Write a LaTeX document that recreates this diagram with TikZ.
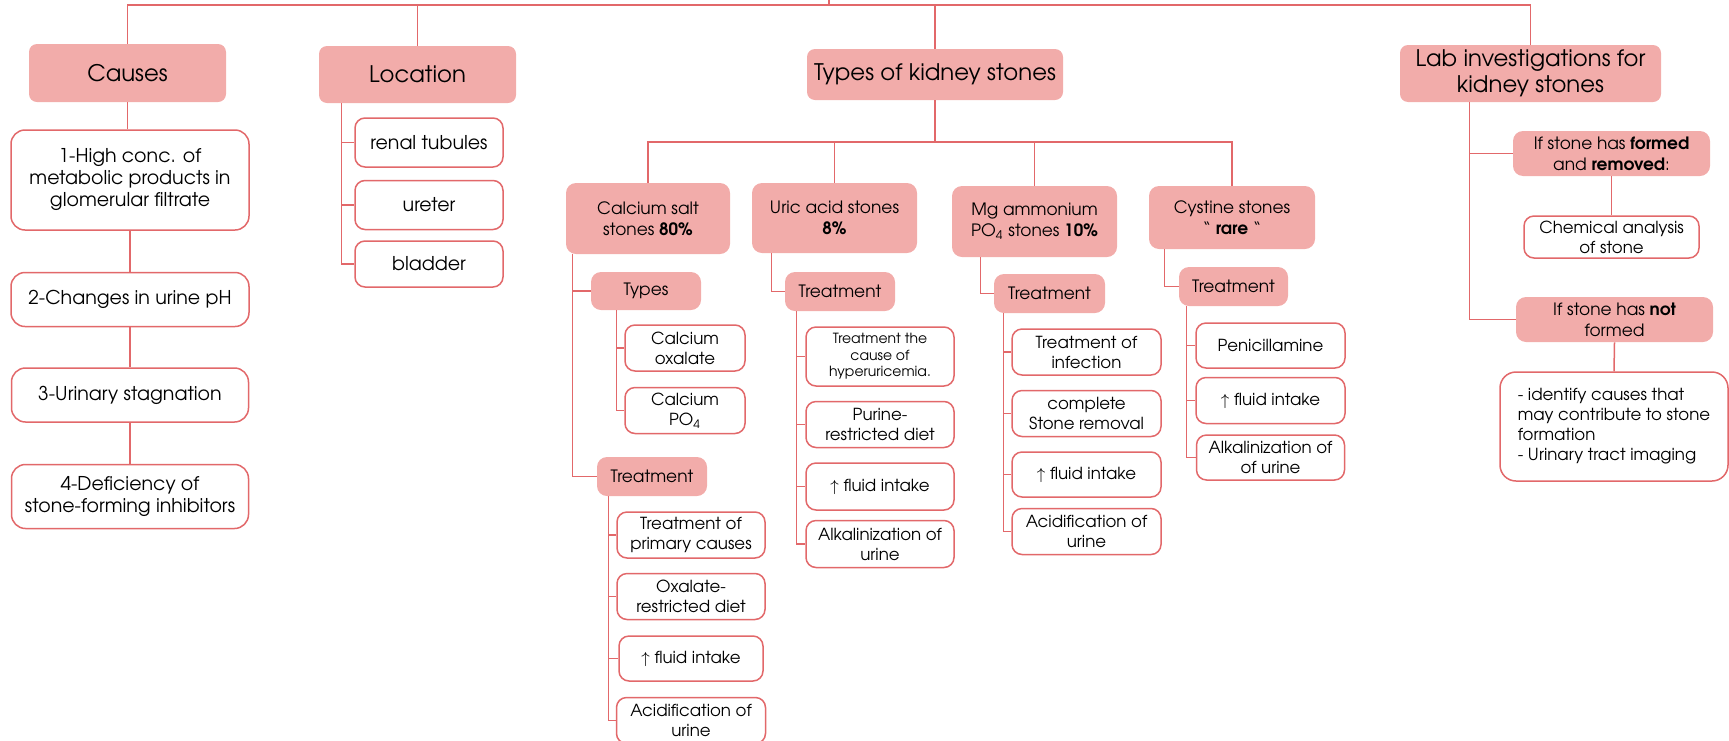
\documentclass[tikz,border=0pt]{standalone}
\usepackage{fontspec}
\setmainfont{TeX Gyre Adventor}
\usetikzlibrary{positioning}
\definecolor{rosefill}{RGB}{242,172,170}
\definecolor{roseline}{RGB}{226,104,106}

\begin{document}
\begin{tikzpicture}[
		x=0.5pt, y=-0.5pt,
		link/.style={draw=roseline, line width=0.75pt},
		head/.style={fill=rosefill, rounded corners=4pt, align=center, inner sep=0pt, font=\fontsize{11.4}{13}\selectfont},
		sub/.style={fill=rosefill, rounded corners=5pt, align=center, inner sep=0pt, font=\fontsize{8.5}{10.5}\selectfont},
		leaf/.style={draw=roseline, line width=0.75pt, fill=white, rounded corners=5pt, align=center, inner sep=0pt, font=\fontsize{8.3}{10}\selectfont},
		bigleaf/.style={leaf, rounded corners=7pt, font=\fontsize{9.5}{11}\selectfont},
	]
	\useasboundingbox (0,0) rectangle (1729,740);

	\node[head, minimum width=98.5pt, minimum height=29pt] (causes) at (127.5,73) {Causes};
	\node[head, minimum width=98.5pt, minimum height=28.5pt] (location) at (417.5,74.5) {Location};
	\node[head, minimum width=128pt, minimum height=25.5pt] (types) at (935,74.5) {Types of kidney stones};
	\node[head, minimum width=130.5pt, minimum height=28.5pt] (lab) at (1530.5,73.5) {Lab investigations for\\kidney stones};

	\node[bigleaf, minimum width=119pt, minimum height=50pt] (high) at (130,180) {1-High conc. of\\metabolic products in\\glomerular filtrate};
	\node[bigleaf, minimum width=119pt, minimum height=27pt, below=20.5pt of high] (changes) {2-Changes in urine pH};
	\node[bigleaf, minimum width=118.5pt, minimum height=27pt, below=20pt of changes] (urinary) {3-Urinary stagnation};
	\node[bigleaf, minimum width=118.5pt, minimum height=32pt, below=20.5pt of urinary] (deficiency) {4-Deficiency of\\stone-forming inhibitors};

	\node[bigleaf, rounded corners=5pt, minimum width=74pt, minimum height=24.5pt] (renal) at (429,142.5) {renal tubules};
	\node[bigleaf, rounded corners=5pt, minimum width=74pt, minimum height=24.5pt, below=6pt of renal] (ureter) {ureter};
	\node[bigleaf, rounded corners=5pt, minimum width=74pt, minimum height=23pt, below=5pt of ureter] (bladder) {bladder};

	\node[sub, minimum width=82pt, minimum height=35.5pt] (calcium) at (648,218.5) {Calcium salt\\stones \textbf{80\%}};
	\node[sub, minimum width=82.5pt, minimum height=35pt] (uric) at (834.5,218) {Uric acid stones\\\textbf{8\%}};
	\node[sub, minimum width=82.5pt, minimum height=35.5pt] (mg) at (1034.5,221.5) {Mg ammonium\\PO\textsubscript{4} stones \textbf{10\%}};
	\node[sub, minimum width=83pt, minimum height=31.5pt] (cystine) at (1232,217.5) {Cystine stones\\“ \textbf{rare} “};

	\node[sub, minimum width=55pt, minimum height=19pt] (catypes) at (646,291) {Types};
	\node[leaf, minimum width=60pt, minimum height=23pt] (caox) at (685,348) {Calcium\\oxalate};
	\node[leaf, minimum width=60pt, minimum height=23pt, below=7.5pt of caox] (caphos) {Calcium\\PO\textsubscript{4}};

	\node[sub, minimum width=55pt, minimum height=19.5pt] (catreat) at (652,476.5) {Treatment};
	\node[leaf, minimum width=74pt, minimum height=23pt] (catrA) at (691,535) {Treatment of\\primary causes};
	\node[leaf, minimum width=74pt, minimum height=23pt, below=7pt of catrA] (catrB) {Oxalate-\\restricted diet};
	\node[leaf, minimum width=72pt, minimum height=22.5pt, below=7.5pt of catrB] (catrC) {$\uparrow$ fluid intake};
	\node[leaf, minimum width=74.5pt, minimum height=23pt, below=7.5pt of catrC] (catrD) {Acidification of\\urine};

	\node[sub, minimum width=55pt, minimum height=19.5pt] (urtreat) at (840,291.5) {Treatment};
	\node[leaf, minimum width=74pt, minimum height=29.5pt, font=\fontsize{7}{8.2}\selectfont] (urA) at (880,356.5) {Treatment the\\cause of\\hyperuricemia.};
	\node[leaf, minimum width=74pt, minimum height=23pt, below=7pt of urA] (urB) {Purine-\\restricted diet};
	\node[leaf, minimum width=74pt, minimum height=23.5pt, below=7pt of urB] (urC) {$\uparrow$ fluid intake};
	\node[leaf, minimum width=74pt, minimum height=23.5pt, below=4.5pt of urC] (urD) {Alkalinization of\\urine};

	\node[sub, minimum width=55.5pt, minimum height=19.5pt] (mgtreat) at (1049.5,293.5) {Treatment};
	\node[leaf, minimum width=74.5pt, minimum height=23pt] (mgA) at (1086.5,352) {Treatment of\\infection};
	\node[leaf, minimum width=74.5pt, minimum height=23pt, below=7pt of mgA] (mgB) {complete\\Stone removal};
	\node[leaf, minimum width=74.5pt, minimum height=22.5pt, below=7pt of mgB] (mgC) {$\uparrow$ fluid intake};
	\node[leaf, minimum width=74.5pt, minimum height=23pt, below=5pt of mgC] (mgD) {Acidification of\\urine};

	\node[sub, minimum width=54.5pt, minimum height=19.5pt] (cytreat) at (1233.5,286.5) {Treatment};
	\node[leaf, minimum width=74.5pt, minimum height=22.5pt] (cyA) at (1270.5,345.5) {Penicillamine};
	\node[leaf, minimum width=74.5pt, minimum height=23pt, below=4pt of cyA] (cyB) {$\uparrow$ fluid intake};
	\node[leaf, minimum width=74pt, minimum height=22.5pt, below=5pt of cyB] (cyC) {Alkalinization of\\of urine};

	\node[sub, minimum width=98.5pt, minimum height=22.5pt] (formed) at (1611.5,153.5) {If stone has \textbf{formed}\\and \textbf{removed}:};
	\node[leaf, minimum width=87.5pt, minimum height=21pt] (chem) at (1611.5,237) {Chemical analysis\\of stone};
	\node[sub, minimum width=98.5pt, minimum height=22.5pt] (notformed) at (1614.5,319.5) {If stone has \textbf{not}\\formed};
	\node[leaf, rounded corners=8pt, align=left, minimum width=114pt, minimum height=54.5pt] (identify) at (1614,426.5) {- identify causes that\\may contribute to stone\\formation\\- Urinary tract imaging};

	\coordinate (top) at (829,5);
	\coordinate (root) at (829,0);
	\coordinate (branch) at (935,142);

	\draw[link] (causes.north) |- (top) -| (lab.north);
	\draw[link] (top) -- (root);
	\draw[link] (location.north) -- (location.north |- top);
	\draw[link] (types.north) -- (types.north |- top);

	\draw[link] (causes.south) -- (causes.south |- high.north);
	\draw[link] (high.south) -- (high.south |- changes.north);
	\draw[link] (changes.south) -- (changes.south |- urinary.north);
	\draw[link] (urinary.south) -- (urinary.south |- deficiency.north);

	\foreach \place in {renal, ureter, bladder}
		\draw[link] ([xshift=11.5pt]location.south west) |- (\place.west);

	\draw[link] (types.south) -- (branch);
	\draw[link] (calcium.north) |- (branch) -| (cystine.north);
	\draw[link] (uric.north) -- (uric.north |- branch);
	\draw[link] (mg.north) -- (mg.north |- branch);

	\draw[link] ([xshift=3.5pt]calcium.south west) |- (catypes.west);
	\draw[link] ([xshift=3.5pt]calcium.south west) |- (catreat.west);
	\foreach \kind in {caox, caphos}
		\draw[link] ([xshift=13pt]catypes.south west) |- (\kind.west);
	\foreach \cure in {catrA, catrB, catrC, catrD}
		\draw[link] ([xshift=6pt]catreat.south west) |- (\cure.west);

	\draw[link] ([xshift=10pt]uric.south west) |- (urtreat.west);
	\foreach \cure in {urA, urB, urC, urD}
		\draw[link] ([xshift=6pt]urtreat.south west) |- (\cure.west);

	\draw[link] ([xshift=14.5pt]mg.south west) |- (mgtreat.west);
	\foreach \cure in {mgA, mgB, mgC, mgD}
		\draw[link] ([xshift=5pt]mgtreat.south west) |- (\cure.west);

	\draw[link] ([xshift=8pt]cystine.south west) |- (cytreat.west);
	\foreach \cure in {cyA, cyB, cyC}
		\draw[link] ([xshift=4pt]cytreat.south west) |- (\cure.west);

	\draw[link] ([xshift=35pt]lab.south west) |- (formed.west);
	\draw[link] ([xshift=35pt]lab.south west) |- (notformed.west);
	\draw[link] (formed.south) -- (chem.north);
	\draw[link] (notformed.south) -- (identify.north);
\end{tikzpicture}
\end{document}
